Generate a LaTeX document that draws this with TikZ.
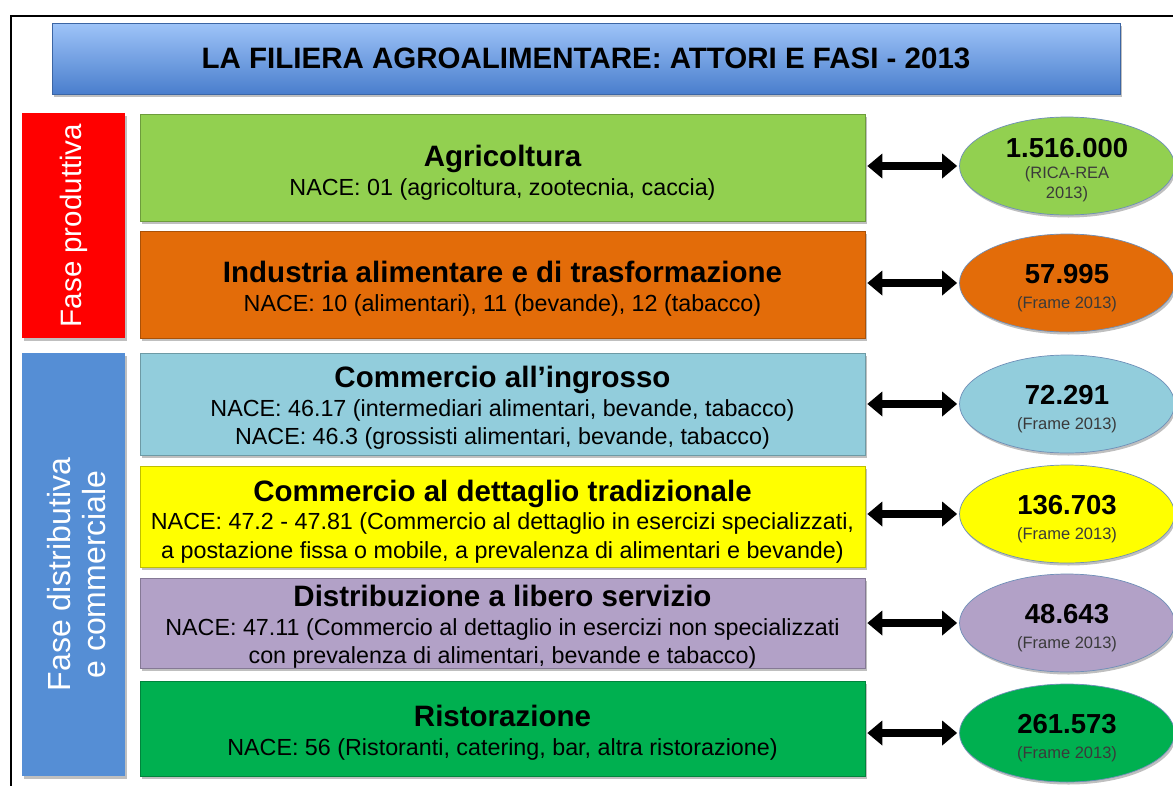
\documentclass[tikz,border=0pt]{standalone}
\usepackage{fontspec}
\setmainfont{Liberation Sans}
\usetikzlibrary{arrows.meta,shadows,shapes.geometric}
\definecolor{cgreen}{HTML}{92D050}
\definecolor{corange}{HTML}{E36C09}
\definecolor{clblue}{HTML}{92CDDC}
\definecolor{cyellow}{HTML}{FFFF00}
\definecolor{cpurple}{HTML}{B2A1C7}
\definecolor{cdgreen}{HTML}{00B050}
\definecolor{cred}{HTML}{FF0000}
\definecolor{cside}{HTML}{558ED5}
\definecolor{ctitletop}{HTML}{9EC4F8}
\definecolor{ctitlebot}{HTML}{4A7ECD}
\definecolor{csub}{HTML}{3A3A3A}
\definecolor{cedge}{HTML}{6F8FB8}
\newcommand\myhd[1]{{\fontsize{29.5}{29}\selectfont\bfseries #1}}
\newcommand\mynum[1]{{\fontsize{27.5}{28}\selectfont\bfseries #1}}
\newcommand\mysrc[1]{{\fontsize{16.5}{18}\selectfont\color{csub}#1}}
\tikzset{
  shad/.style={drop shadow={shadow xshift=1.5pt,shadow yshift=-2.5pt,opacity=0.25,fill=black}},
  phasebox/.style={rectangle,shad,draw=#1!75!black,line width=0.6pt,fill=#1,minimum width=725pt},
  boxtext/.style={align=center,inner sep=0pt,font=\fontsize{23.3}{28.5}\selectfont},
  sidebox/.style={rectangle,shad,fill=#1,minimum width=103pt},
  numell/.style={ellipse,shad,draw=cedge,line width=0.7pt,fill=#1,minimum width=215pt,
    minimum height=98pt,inner sep=0pt},
  elltext/.style={align=center,inner sep=0pt,font=\fontsize{16.5}{25}\selectfont},
  dblarrow/.style={line width=8pt,{Triangle[width=24pt,length=15pt]}-{Triangle[width=24pt,length=15pt]},
    shorten <=2pt,shorten >=2pt}
}
\begin{document}
\begin{tikzpicture}[x=1pt,y=-1pt]
\useasboundingbox (0,0) rectangle (1173,785);
\fill[white] (0,0) rectangle (1173,785);
% frame
\draw[line width=2.2pt] (11,790) -- (11,16) -- (1180,16);
% title
\node[rectangle,shad,draw=ctitlebot!80!black,line width=0.5pt,top color=ctitletop,bottom color=ctitlebot,
  minimum width=1068pt,minimum height=71pt,font=\fontsize{29.5}{32}\selectfont\bfseries] (title) at (586,58.5)
  {LA FILIERA AGROALIMENTARE: ATTORI E FASI - 2013};
% side boxes
\node[sidebox=cred,minimum height=225pt] (s1) at (73.5,225.5) {};
\node[rotate=90,text=white,font=\fontsize{29.5}{35}\selectfont] (s1t) at (s1.center) {Fase produttiva};
\node[sidebox=cside,minimum height=423pt] (s2) at (73.5,564.5) {};
\node[rotate=90,text=white,align=center,font=\fontsize{32}{35}\selectfont] (s2t) at ([xshift=3pt,yshift=-10pt]s2.center) {Fase distributiva\\e commerciale};
% phase boxes
\node[phasebox=cgreen,minimum height=107pt] (b1) at (502.5,167.5) {};
\node[boxtext] (b1t) at ([yshift=-5pt]b1.center)
  {\myhd{Agricoltura}\\NACE: 01 (agricoltura, zootecnia, caccia)};
\node[phasebox=corange,minimum height=107pt] (b2) at (502.5,284.5) {};
\node[boxtext] (b2t) at ([yshift=-4pt]b2.center)
  {\myhd{Industria alimentare e di trasformazione}\\NACE: 10 (alimentari), 11 (bevande), 12 (tabacco)};
\node[phasebox=clblue,minimum height=102pt] (b3) at (502.5,404) {};
\node[boxtext] (b3t) at ([yshift=-4pt]b3.center)
  {\myhd{Commercio all’ingrosso}\\NACE: 46.17 (intermediari alimentari, bevande, tabacco)\\NACE: 46.3 (grossisti alimentari, bevande, tabacco)};
\node[phasebox=cyellow,minimum height=101pt] (b4) at (502.5,516.5) {};
\node[boxtext] (b4t) at ([yshift=-5pt]b4.center)
  {\myhd{Commercio al dettaglio tradizionale}\\NACE: 47.2 - 47.81 (Commercio al dettaglio in esercizi specializzati,\\a postazione fissa o mobile, a prevalenza di alimentari e bevande)};
\node[phasebox=cpurple,minimum height=90pt] (b5) at (502.5,623) {};
\node[boxtext] (b5t) at ([yshift=-4pt]b5.center)
  {\myhd{Distribuzione a libero servizio}\\NACE: 47.11 (Commercio al dettaglio in esercizi non specializzati\\con prevalenza di alimentari, bevande e tabacco)};
\node[phasebox=cdgreen,minimum height=95pt] (b6) at (502.5,728.5) {};
\node[boxtext] (b6t) at ([yshift=-4pt]b6.center)
  {\myhd{Ristorazione}\\NACE: 56 (Ristoranti, catering, bar, altra ristorazione)};
% ellipses
\node[numell=cgreen] (e1) at (1067,166) {};
\node[elltext] (e1t) at ([yshift=-4pt]e1.center) {\mynum{1.516.000}\\[-4pt]\mysrc{(RICA-REA}\\[-5pt]\mysrc{2013)}};
\node[numell=corange] (e2) at (1067,283) {};
\node[elltext] (e2t) at ([yshift=-5pt]e2.center) {\mynum{57.995}\\\mysrc{(Frame 2013)}};
\node[numell=clblue] (e3) at (1067,404) {};
\node[elltext] (e3t) at ([yshift=-5pt]e3.center) {\mynum{72.291}\\\mysrc{(Frame 2013)}};
\node[numell=cyellow] (e4) at (1067,514) {};
\node[elltext] (e4t) at ([yshift=-5pt]e4.center) {\mynum{136.703}\\\mysrc{(Frame 2013)}};
\node[numell=cpurple] (e5) at (1067,623) {};
\node[elltext] (e5t) at ([yshift=-5pt]e5.center) {\mynum{48.643}\\\mysrc{(Frame 2013)}};
\node[numell=cdgreen] (e6) at (1067,733) {};
\node[elltext] (e6t) at ([yshift=-5pt]e6.center) {\mynum{261.573}\\\mysrc{(Frame 2013)}};
% arrows
\foreach \i in {1,...,6}{
  \draw[dblarrow] (b\i.east |- e\i.west) -- (e\i.west);
}
\end{tikzpicture}
\end{document}
